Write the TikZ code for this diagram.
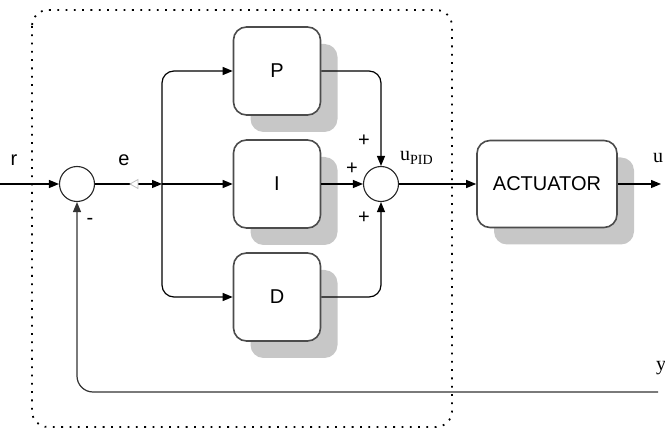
\documentclass[tikz,border=0pt]{standalone}
\usepackage{fontspec}
\setmainfont{Liberation Serif}
\setsansfont{Liberation Sans}
\usetikzlibrary{shadows,arrows.meta}
\begin{document}
\begin{tikzpicture}[x=1pt,y=-1pt,
 blk/.style={draw=black!70, line width=1.6pt, rounded corners=13pt, fill=white,
   minimum width=87pt, minimum height=88pt, inner sep=0pt,
   font=\sffamily\fontsize{20}{20}\selectfont,
   general shadow={fill=black!22, shadow xshift=17pt, shadow yshift=-17pt}},
 sumc/.style={circle, draw=black!85, line width=1.1pt, minimum size=35pt, inner sep=0pt, fill=white},
 conn/.style={line width=1.2pt, -{Triangle[length=10pt,width=8pt]}},
 lbl/.style={font=\sffamily\fontsize{20}{20}\selectfont, inner sep=0pt},
 slbl/.style={font=\fontsize{20}{20}\selectfont, inner sep=0pt},
]
\useasboundingbox (0,0) rectangle (665,430);
\draw[line width=1.8pt, dash pattern=on 1.8pt off 6.5pt, rounded corners=16pt] (32,10) rectangle (452,427);

\node[sumc] (s1) at (77,184) {};
\node[blk] (P) at (277,71) {P};
\node[blk] (I) at (277,184) {I};
\node[blk] (D) at (277,297) {D};
\node[sumc] (s2) at (381,184) {};
\node[blk, minimum width=140pt, minimum height=87pt] (A) at (547,184) {ACTUATOR};
\coordinate (rin) at (0,184);
\coordinate (br) at (162,184);
\coordinate (uout) at (661,184);
\coordinate (yin) at (658,392);

\draw[conn] (rin) -- (s1);
\draw[conn] (s1) -- (br);
\draw[conn] (br) -- (I);
\draw[conn, rounded corners=12pt] (br) |- (P);
\draw[conn, rounded corners=12pt] (br) |- (D);
\draw[conn, rounded corners=12pt] (P) -| (s2);
\draw[conn] (I) -- (s2);
\draw[conn, rounded corners=12pt] (D) -| (s2);
\draw[conn] (s2) -- (A);
\draw[conn] (A) -- (uout);
\draw[conn, black!80, rounded corners=16pt] (yin) -| (s1);

\draw[black!25, fill=white, line width=0.8pt] (138,179.5) -- (130,184) -- (138,188.5) -- cycle;

\node[lbl] (lr) at (14,160) {r};
\node[lbl] (le) at (124,160) {e};
\node[lbl] (lm) at (90,221) {-};
\node[lbl] (lp1) at (364,141) {+};
\node[lbl] (lp2) at (352,169) {+};
\node[lbl] (lp3) at (364,218) {+};
\node[slbl, anchor=west] (lu) at (400,158) {u\raisebox{-0.35ex}{\fontsize{14}{14}\selectfont PID}};
\node[slbl, anchor=west] (lo) at (653,158) {u};
\node[slbl, anchor=west] (ly) at (656,368) {y};
\end{tikzpicture}
\end{document}
